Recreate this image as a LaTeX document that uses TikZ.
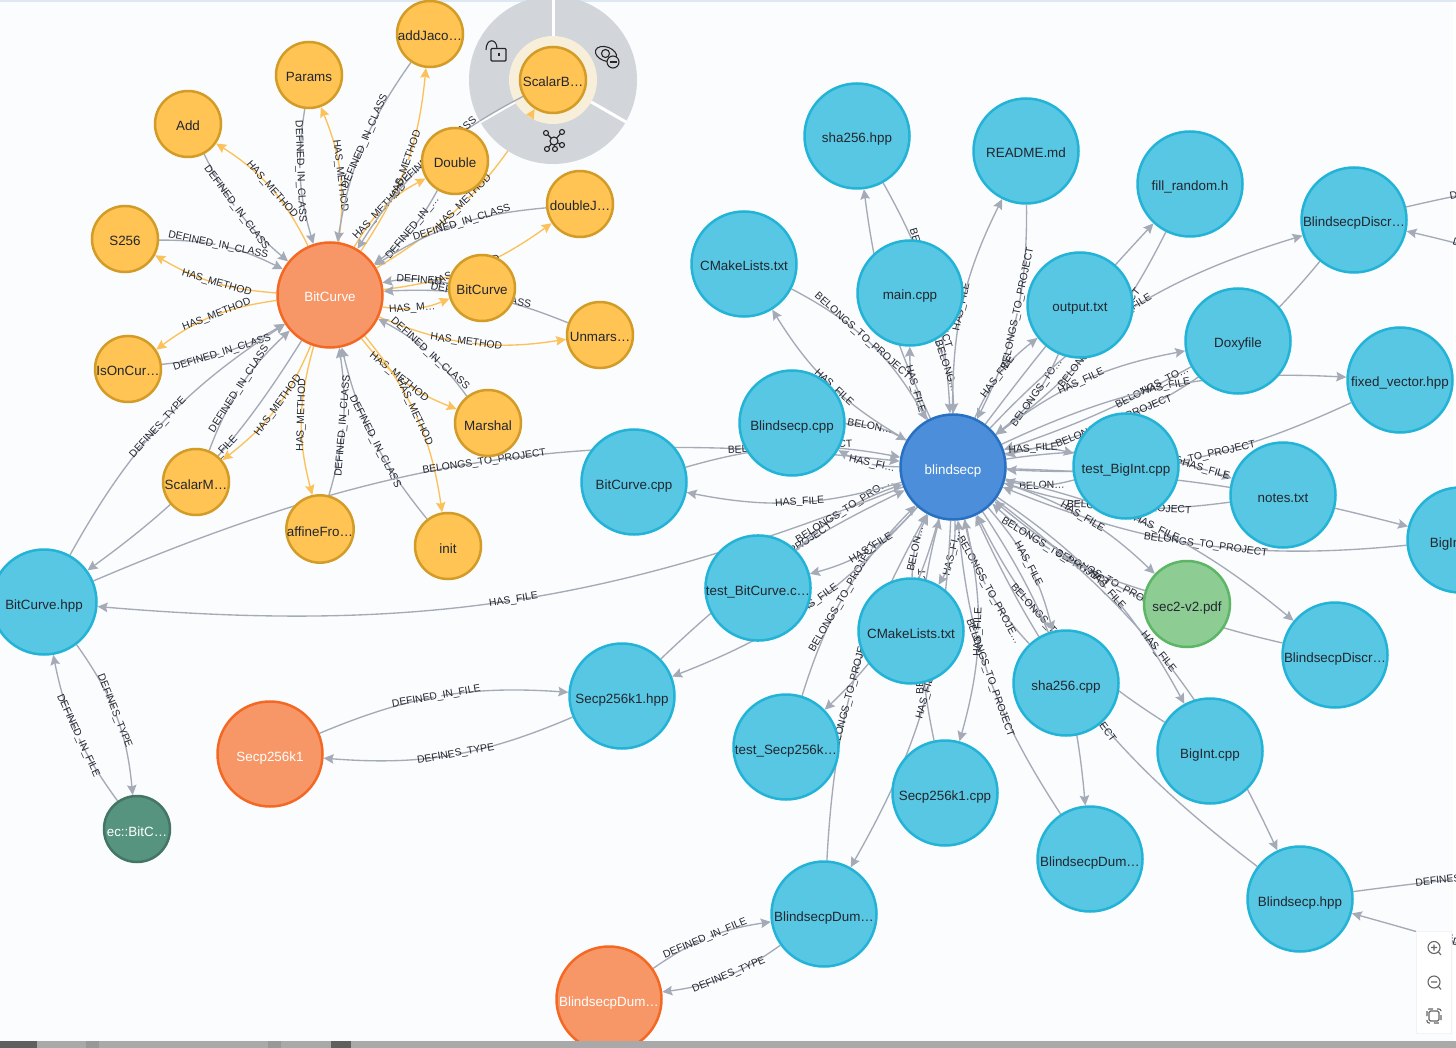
\documentclass[tikz,border=0pt]{standalone}
\usepackage{fontspec}
\setmainfont{Liberation Sans}
\usetikzlibrary{arrows.meta,calc}
\definecolor{bgc}{HTML}{FBFCFE}
\definecolor{greyedge}{HTML}{A5ABB6}
\definecolor{oredge}{HTML}{FBC25C}
\definecolor{txt}{HTML}{23262E}
\definecolor{ringc}{HTML}{D2D5DA}
\definecolor{haloc}{HTML}{F7EFD9}
\definecolor{topc}{HTML}{DDE8F2}
\definecolor{panelc}{HTML}{F1F3F6}
\definecolor{stripa}{HTML}{A9A9A9}
\definecolor{stripb}{HTML}{5F5F5F}
\definecolor{stripc}{HTML}{989898}
\definecolor{clsfill}{HTML}{FFC454}
\definecolor{clsdraw}{HTML}{D39C27}
\definecolor{filefill}{HTML}{57C7E3}
\definecolor{filedraw}{HTML}{23B3D7}
\definecolor{bigfill}{HTML}{F79767}
\definecolor{bigdraw}{HTML}{F36924}
\definecolor{projfill}{HTML}{4C8EDA}
\definecolor{projdraw}{HTML}{2870C2}
\definecolor{pdffill}{HTML}{8DCC93}
\definecolor{pdfdraw}{HTML}{5DB665}
\definecolor{typefill}{HTML}{569480}
\definecolor{typedraw}{HTML}{447666}
\pgfdeclarelayer{edges}
\pgfdeclarelayer{ring}
\pgfsetlayers{edges,ring,main}
\newlength\mylw
\newcommand\lfont{\fontsize{10.4}{12}\selectfont}
\newcommand\DIC{DEFINED\_IN\_CLASS}
\newcommand\HM{HAS\_METHOD}
\newcommand\HF{HAS\_FILE}
\newcommand\BTP{BELONGS\_TO\_PROJECT}
\newcommand\DT{DEFINES\_TYPE}
\newcommand\DIF{DEFINED\_IN\_FILE}
% \rel[style]{from}{to}{label centre x,y}{text}: curve through the label centre, gap round the label
\newcommand\rel[5][]{%
  \settowidth\mylw{\lfont #5}%
  \coordinate (L) at (#4);%
  \pgfpointanchor{#2}{center}\pgfgetlastxy\myax\myay
  \pgfpointanchor{#3}{center}\pgfgetlastxy\mybx\myby
  \pgfpointanchor{L}{center}\pgfgetlastxy\mylx\myly
  \pgfpointanchor{#2}{east}\pgfgetlastxy\myex\myey
  \pgfpointanchor{#3}{east}\pgfgetlastxy\myfx\myfy
  \pgfmathsetmacro\myra{\myex-\myax}%
  \pgfmathsetmacro\myrb{\myfx-\mybx}%
  \pgfmathsetmacro\mydx{(\mybx-\myax)/100}%
  \pgfmathsetmacro\mydy{(\myby-\myay)/100}%
  \pgfmathsetmacro\myD{veclen(\mydx,\mydy)}%
  \pgfmathsetmacro\myt{((\mylx-\myax)/100*\mydx+(\myly-\myay)/100*\mydy)/(\myD*\myD)}%
  \pgfmathsetmacro\myh{(\mydx*(\myly-\myay)-\mydy*(\mylx-\myax))/\myD}%
  \pgfmathsetmacro\myd{\myD*100-\myra-\myrb}%
  \pgfmathsetmacro\myp{min(0.98,max(0.02,(\myt*\myD*100-\myra)/\myd))}%
  \pgfmathsetmacro\mysin{min(0.9,max(-0.9,\myh/(0.2936*\myd+0.5*\myra+0.5*\myrb)))}%
  \pgfmathsetmacro\myA{asin(\mysin)}%
  \pgfmathsetmacro\myLc{\myd*(1+2.67*(\myh/\myd)*(\myh/\myd))}%
  \pgfmathsetmacro\myon{max(0.01,\myp*\myLc-\mylw/2-4)}%
  \pgfmathsetmacro\myoff{\mylw+8}%
  \draw[edgeline,#1,dash pattern=on \myon pt off \myoff pt on 3000pt off 1pt]
    (#2) to[bend left=\myA] node[elabel,pos=\myp]{#5} (#3);%
}
\tikzset{
  edgeline/.style={line width=1.35pt,draw=greyedge,-{Stealth[length=10pt,width=9.5pt,inset=1.5pt]}},
  oe/.style={draw=oredge},
  elabel/.style={sloped,inner sep=0pt,font=\lfont,text=txt,solid},
  nbase/.style={circle,line width=2.5pt,inner sep=0pt,font=\fontsize{13.4}{15}\selectfont,text=txt,text height=14pt,text depth=0pt},
  cls/.style={nbase,minimum size=66pt,fill=clsfill,draw=clsdraw},
  filen/.style={nbase,minimum size=105pt,fill=filefill,draw=filedraw},
  big/.style={nbase,minimum size=105pt,fill=bigfill,draw=bigdraw,text=white},
  proj/.style={nbase,minimum size=105pt,fill=projfill,draw=projdraw,text=white},
  pdfn/.style={nbase,minimum size=86pt,fill=pdffill,draw=pdfdraw},
  typen/.style={nbase,minimum size=66pt,fill=typefill,draw=typedraw,text=white},
  icon/.style={draw=#1,line width=1.1pt,fill=none},
  icon/.default=black!85,
}
\begin{document}
\begin{tikzpicture}[x=1pt,y=-1pt]
\useasboundingbox (0,0) rectangle (1456,1048);
% nodes
\node[cls] (addJaco) at (430,34) {addJaco…};
\node[cls] (Params) at (309,75) {Params};
\node[cls] (Add) at (188,124) {Add};
\node[cls] (S256) at (125,239) {S256};
\node[cls] (IsOnCur) at (128,369) {IsOnCur…};
\node[cls] (ScalarM) at (196,482) {ScalarM…};
\node[cls] (affineFro) at (320,529) {affineFro…};
\node[cls] (init) at (448,546) {init};
\node[cls] (Marshal) at (488,423) {Marshal};
\node[cls] (Unmars) at (600,335) {Unmars…};
\node[cls] (BitCurveS) at (482,288) {BitCurve};
\node[cls] (doubleJ) at (580,204) {doubleJ…};
\node[cls] (Double) at (455,161) {Double};
\node[cls] (ScalarB) at (553,80) {ScalarB…};
\node[big] (BC) at (330,295) {BitCurve};
\node[proj] (blindsecp) at (953,467) {blindsecp};
\node[filen] (sha256hpp) at (857,136) {sha256.hpp};
\node[filen] (README) at (1026,151) {README.md};
\node[filen] (fillrandom) at (1190,184) {fill\_random.h};
\node[filen] (DiscrTop) at (1354,220) {BlindsecpDiscr…};
\node[filen] (CMake1) at (744,264) {CMakeLists.txt};
\node[filen] (maincpp) at (910,293) {main.cpp};
\node[filen] (output) at (1080,305) {output.txt};
\node[filen] (Doxyfile) at (1238,341) {Doxyfile};
\node[filen] (fixedvector) at (1400,380) {fixed\_vector.hpp};
\node[filen] (Blindcpp) at (792,423) {Blindsecp.cpp};
\node[filen] (testBigInt) at (1126,466) {test\_BigInt.cpp};
\node[filen] (notes) at (1283,495) {notes.txt};
\node[filen] (BitCurvecpp) at (634,482) {BitCurve.cpp};
\node[filen] (BigI) at (1460,540) {BigInt.hpp};
\node[filen] (testBitCurve) at (758,588) {test\_BitCurve.c…};
\node[pdfn] (sec2) at (1187,604) {sec2-v2.pdf};
\node[filen] (DiscrLow) at (1335,655) {BlindsecpDiscr…};
\node[filen] (CMake2) at (911,631) {CMakeLists.txt};
\node[filen] (sha256cpp) at (1066,683) {sha256.cpp};
\node[filen] (Secphpp) at (622,696) {Secp256k1.hpp};
\node[filen] (BigIntcpp) at (1210,751) {BigInt.cpp};
\node[filen] (testSecp) at (786,747) {test\_Secp256k…};
\node[filen] (Secpcpp) at (945,793) {Secp256k1.cpp};
\node[filen] (DumA) at (1090,859) {BlindsecpDum…};
\node[filen] (Blindhpp) at (1300,899) {Blindsecp.hpp};
\node[filen] (DumB) at (824,914) {BlindsecpDum…};
\node[big] (DumC) at (609,999) {BlindsecpDum…};
\node[big] (Secp) at (270,754) {Secp256k1};
\node[filen] (BitCurvehpp) at (44,602) {BitCurve.hpp};
\node[typen] (ec) at (137,829) {ec::BitC…};
\coordinate (offA) at (1520,185);
\coordinate (offB) at (1520,262);
\coordinate (offC) at (1520,873);
\coordinate (offD) at (1520,962);

\begin{pgfonlayer}{edges}
\fill[bgc] (0,0) rectangle (1456,1048);
\fill[white] (1453,0) rectangle (1456,1041);
\fill[topc] (0,0) rectangle (1456,2);
% BitCurve class
\rel{Add}{BC}{236,208}{\DIC}
\rel[oe]{BC}{Add}{272,190}{\HM}
\rel{Params}{BC}{300,171}{\DIC}
\rel[oe]{BC}{Params}{340,176}{\HM}
\rel{addJaco}{BC}{365,141}{\DIC}
\rel[oe]{BC}{addJaco}{406,165}{\HM}
\rel{Double}{BC}{413,228}{DEFINED\_IN\_…}
\rel[oe]{BC}{Double}{380,212}{\HM}
\rel{ScalarB}{BC}{437,152}{\DIC}
\rel[oe]{BC}{ScalarB}{464,202}{\HM}
\rel{doubleJ}{BC}{462,223}{\DIC}
\rel[oe]{BC}{doubleJ}{465,271}{\HM}
\rel{BitCurveS}{BC}{425,279}{DEFINED…}
\rel[oe]{BC}{BitCurveS}{412,308}{HAS\_M…}
\rel{Unmars}{BC}{481,296}{\DIC}
\rel[oe]{BC}{Unmars}{466,342}{\HM}
\rel{Marshal}{BC}{430,354}{\DIC}
\rel[oe]{BC}{Marshal}{399,377}{\HM}
\rel{init}{BC}{375,442}{\DIC}
\rel[oe]{BC}{init}{414,412}{\HM}
\rel{affineFro}{BC}{343,426}{\DIC}
\rel[oe]{BC}{affineFro}{302,415}{\HM}
\rel{ScalarM}{BC}{239,389}{\DIC}
\rel[oe]{BC}{ScalarM}{278,405}{\HM}
\rel{IsOnCur}{BC}{222,353}{\DIC}
\rel[oe]{BC}{IsOnCur}{217,315}{\HM}
\rel{S256}{BC}{218,245}{\DIC}
\rel[oe]{BC}{S256}{217,283}{\HM}
\rel{BitCurvehpp}{BC}{158,428}{\DT}
\rel{BC}{BitCurvehpp}{205,470}{\DIF}
\rel{BitCurvehpp}{ec}{114,711}{\DT}
\rel{ec}{BitCurvehpp}{78,736}{\DIF}
% project files
\rel{BitCurvehpp}{blindsecp}{484,462}{\BTP}
\rel{blindsecp}{BitCurvehpp}{514,600}{\HF}
\rel{sha256hpp}{blindsecp}{930,288}{\BTP}
\rel{blindsecp}{sha256hpp}{885,300}{\HF}
\rel{maincpp}{blindsecp}{947,366}{BELONG…}
\rel{blindsecp}{maincpp}{915,389}{\HF}
\rel{README}{blindsecp}{1018,308}{\BTP}
\rel{blindsecp}{README}{962,307}{\HF}
\rel{fillrandom}{blindsecp}{1100,338}{\BTP}
\rel{blindsecp}{fillrandom}{1080,305}{\HF}
\rel{output}{blindsecp}{1037,393}{BELONGS\_TO…}
\rel{blindsecp}{output}{998,377}{\HF}
\rel{Doxyfile}{blindsecp}{1156,388}{BELONGS\_TO…}
\rel{blindsecp}{Doxyfile}{1081,382}{\HF}
\rel{DiscrTop}{blindsecp}{1115,428}{\BTP}
\rel{blindsecp}{DiscrTop}{1130,310}{\HF}
\rel{fixedvector}{blindsecp}{1195,458}{\BTP}
\rel{blindsecp}{fixedvector}{1166,387}{\HF}
\rel{testBigInt}{blindsecp}{1042,485}{BELON…}
\rel{blindsecp}{testBigInt}{1033,449}{\HF}
\rel{notes}{blindsecp}{1130,508}{\BTP}
\rel{blindsecp}{notes}{1208,461}{\HF}
\rel{BigI}{blindsecp}{1206,545}{\BTP}
\rel{blindsecp}{BigI}{1283,495}{\HF}
\rel{DiscrLow}{blindsecp}{1110,582}{\BTP}
\rel{blindsecp}{DiscrLow}{1156,529}{\HF}
\rel{sec2}{blindsecp}{1055,552}{\BTP}
\rel{blindsecp}{sec2}{1082,517}{\HF}
\rel{BigIntcpp}{blindsecp}{1054,632}{\BTP}
\rel{blindsecp}{BigIntcpp}{1107,590}{\HF}
\rel{Blindhpp}{blindsecp}{1075,690}{\BTP}
\rel{blindsecp}{Blindhpp}{1158,652}{\HF}
\rel{sha256cpp}{blindsecp}{989,590}{BELONGS\_TO\_PROJE…}
\rel{blindsecp}{sha256cpp}{1028,564}{\HF}
\rel{DumA}{blindsecp}{990,678}{\BTP}
\rel{blindsecp}{DumA}{1066,683}{\HF}
\rel{Secpcpp}{blindsecp}{922,632}{\BTP}
\rel{blindsecp}{Secpcpp}{978,632}{\HF}
\rel{CMake2}{blindsecp}{915,549}{BELON…}
\rel{blindsecp}{CMake2}{952,553}{HAS\_FI…}
\rel{testSecp}{blindsecp}{843,598}{\BTP}
\rel{blindsecp}{testSecp}{895,625}{\HF}
\rel{DumB}{blindsecp}{850,695}{\BTP}
\rel{blindsecp}{DumB}{926,695}{\HF}
\rel{Secphpp}{blindsecp}{780,560}{\BTP}
\rel{blindsecp}{Secphpp}{818,600}{\HF}
\rel{testBitCurve}{blindsecp}{843,512}{BELONGS\_TO\_PRO…}
\rel{blindsecp}{testBitCurve}{871,548}{\HF}
\rel{BitCurvecpp}{blindsecp}{790,448}{\BTP}
\rel{blindsecp}{BitCurvecpp}{800,502}{\HF}
\rel{Blindcpp}{blindsecp}{870,426}{BELON…}
\rel{blindsecp}{Blindcpp}{872,464}{HAS\_FI…}
\rel{CMake1}{blindsecp}{862,336}{\BTP}
\rel{blindsecp}{CMake1}{834,388}{\HF}
\rel{Secphpp}{Secp}{456,754}{\DT}
\rel{Secp}{Secphpp}{436,697}{\DIF}
\rel{DumB}{DumC}{729,975}{\DT}
\rel{DumC}{DumB}{705,939}{\DIF}
\rel{DiscrTop}{offA}{1490,189}{\DT}
\rel{offB}{DiscrTop}{1498,254}{\DIF}
\rel{Blindhpp}{offC}{1456,879}{\DT}
\rel{offD}{Blindhpp}{1498,955}{\DIF}
\end{pgfonlayer}

\begin{pgfonlayer}{ring}
\fill[ringc] (553,80) circle[radius=84pt];
\draw[white,line width=3pt] (553,-6) -- (553,80);
\draw[white,line width=3pt] (553,80) -- (626,122);
\draw[white,line width=3pt] (553,80) -- (480,122);
\fill[haloc] (553,80) circle[radius=44pt];
\begin{scope}
\clip (553,80) circle[radius=84pt];
\rel{ScalarB}{BC}{437,152}{}
\end{scope}
\begin{scope}
\clip (553,80) circle[radius=44pt];
\rel[oe]{BC}{ScalarB}{464,202}{}
\end{scope}
% unlocked padlock
\draw[icon,rounded corners=1pt] (491,48.5) rectangle (506,61);
\draw[icon] (486,50) .. controls (486,38) and (497,38) .. (497,48.5);
\fill[black!85] (497.5,53.5) rectangle (499.5,56.5);
% crossed eye
\draw[icon,rotate around={-20:(606,54)}] (606,54) ellipse[x radius=11pt,y radius=7pt];
\draw[icon] (605.5,53.5) circle[radius=4pt];
\draw[icon,fill=ringc] (613,62) circle[radius=6pt];
\draw[icon] (609.5,62) -- (616.5,62);
% graph glyph
\draw[icon] (554,141) -- (546,133) (554,141) -- (562,132) (554,141) -- (562,145) (554,141) -- (547,149) (554,141) -- (555,149);
\draw[icon,fill=ringc] (554,141) circle[radius=4pt];
\draw[icon,fill=ringc] (546,133) circle[radius=2.5pt];
\draw[icon,fill=ringc] (562,132) circle[radius=2.5pt];
\draw[icon,fill=ringc] (562,145) circle[radius=2.5pt];
\draw[icon,fill=ringc] (547,149) circle[radius=2.5pt];
\draw[icon,fill=ringc] (555,149) circle[radius=2.5pt];
\end{pgfonlayer}

% zoom panel
\fill[panelc] (1416,931) rectangle (1452,1034);
\fill[white] (1417,932) rectangle (1451,1033);
\fill[black!60] (1452.5,935) circle[radius=.7pt] (1452.5,938) circle[radius=.7pt] (1452.5,941) circle[radius=.7pt];
\draw[icon=black!60] (1434,947.5) circle[radius=6pt] (1438.5,952) -- (1441,955) (1431,947.5) -- (1437,947.5) (1434,944.5) -- (1434,950.5);
\draw[icon=black!60] (1434,982) circle[radius=6pt] (1438.5,986.5) -- (1441,989.5) (1431,982) -- (1437,982);
\draw[icon=black!60,rounded corners=1.5pt] (1429,1011) rectangle (1439,1021);
\draw[icon=black!60,rounded corners=2pt,dash pattern=on 5pt off 4pt] (1427,1009) rectangle (1441,1023);
% bottom strip
\fill[stripa] (0,1041) rectangle (1456,1048);
\fill[stripb] (0,1041) rectangle (37,1048);
\fill[stripb] (331,1041) rectangle (351,1048);
\fill[stripc] (86,1041) rectangle (99,1048);
\fill[stripc] (268,1041) rectangle (281,1048);
\end{tikzpicture}
\end{document}
